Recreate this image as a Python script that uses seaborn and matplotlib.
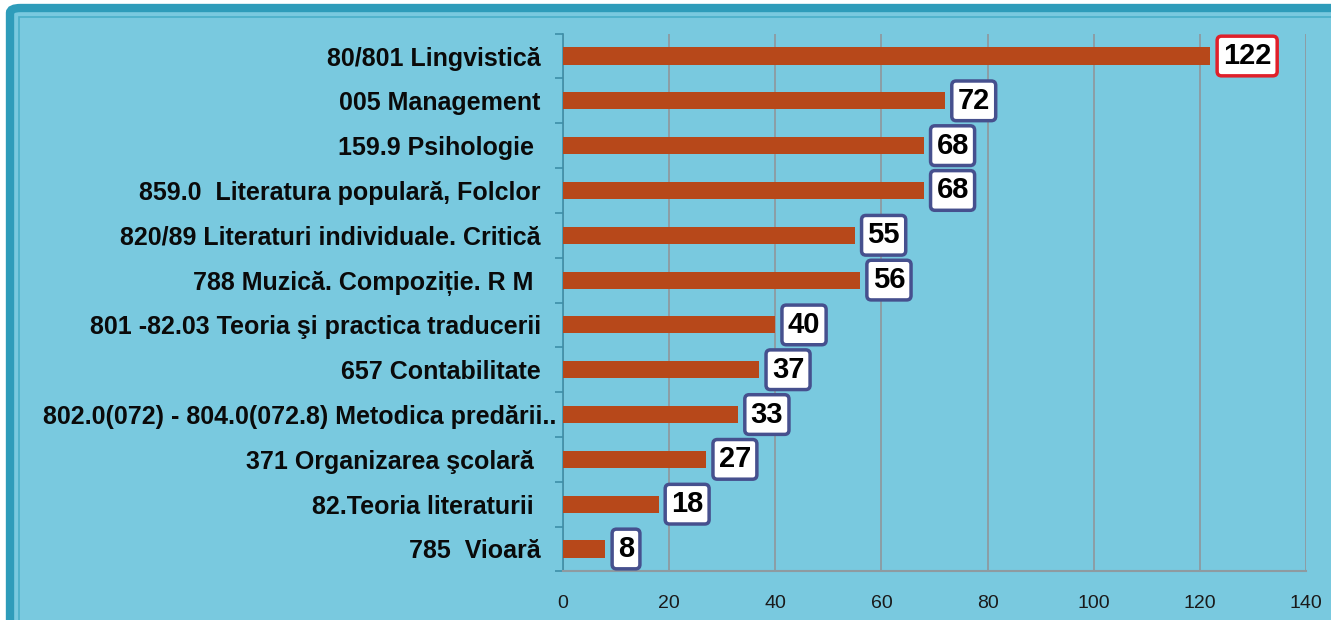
import matplotlib
matplotlib.use("Agg")
import matplotlib.pyplot as plt
import seaborn as sns
import pandas as pd
from matplotlib.patches import FancyBboxPatch
from matplotlib.ticker import FixedLocator
from matplotlib.transforms import ScaledTranslation

categories = [
    "80/801 Lingvistică",
    "005 Management",
    "159.9 Psihologie ",
    "859.0  Literatura populară, Folclor",
    "820/89 Literaturi individuale. Critică",
    "788 Muzică. Compoziție. R M ",
    "801 -82.03 Teoria şi practica traducerii",
    "657 Contabilitate",
    "802.0(072) - 804.0(072.8) Metodica predării..",
    "371 Organizarea şcolară ",
    "82.Teoria literaturii ",
    "785  Vioară",
]
values = [122, 72, 68, 68, 55, 56, 40, 37, 33, 27, 18, 8]
x_ticks = [0, 20, 40, 60, 80, 100, 120, 140]

BG = "#79C9DF"
BAR = "#B7481A"

sns.set_theme(style="white")
plt.rcParams['font.family'] = ['Liberation Sans', 'DejaVu Sans']

fig = plt.figure(figsize=(13.31, 6.20), dpi=100)
fig.patch.set_facecolor("white")

# frame background
frame = FancyBboxPatch((10 / 1331, -0.05), 1.2, 1.05 - 8 / 620,
                       boxstyle="round,pad=0,rounding_size=0.008",
                       transform=fig.transFigure, facecolor=BG,
                       edgecolor="#2E9CBA", linewidth=6, zorder=-10)
fig.patches.append(frame)
inner = plt.Rectangle((19 / 1331, -0.05), 1.2, 1.05 - 17 / 620,
                      transform=fig.transFigure, facecolor="none",
                      edgecolor="#4AAFC9", linewidth=1.2, zorder=-9)
fig.patches.append(inner)

ax = fig.add_axes([563 / 1331, 1 - 571.4 / 620, (1306 - 563) / 1331, (571.4 - 33.6) / 620])
ax.set_facecolor("none")
ax.set_zorder(5)

df = pd.DataFrame({"cat": categories, "val": values})
sns.barplot(data=df, x="val", y="cat", orient="h", color=BAR, width=0.38,
            saturation=1, linewidth=0, ax=ax, zorder=3)

ax.set_xlim(0, 140)
ax.set_ylim(len(categories) - 0.5, -0.5)
ax.set_xlabel("")
ax.set_ylabel("")

# gridlines
ax.xaxis.set_major_locator(FixedLocator(x_ticks))
ax.grid(axis="x", color="#8E9AA0", linewidth=1.3, zorder=1)
ax.set_axisbelow(True)

for s in ["top", "right"]:
    ax.spines[s].set_visible(False)
ax.spines["left"].set_color("#3E8FA8")
ax.spines["left"].set_linewidth(1.2)
ax.spines["bottom"].set_color("#8E9AA0")
ax.spines["bottom"].set_linewidth(1.5)

ax.tick_params(axis="x", direction="out", length=6, width=1.3, color="#8E9AA0",
               pad=11, labelsize=14, labelcolor="#1A1A1A")
ax.set_xticklabels([str(t) for t in x_ticks])

ax.tick_params(axis="y", which="major", length=0, pad=16, labelsize=18)
for lab in ax.get_yticklabels():
    lab.set_fontweight("bold")
    lab.set_color("#0A0A0A")
    if lab.get_text().endswith(".."):
        lab.set_transform(lab.get_transform() +
                          ScaledTranslation(16 / 100, 0, fig.dpi_scale_trans))
ax.yaxis.set_minor_locator(FixedLocator([i - 0.5 for i in range(len(categories) + 1)]))
ax.tick_params(axis="y", which="minor", direction="out", length=6, width=1.2,
               color="#3E8FA8", left=True)

# value labels
for i, v in enumerate(values):
    ec = "#E0202A" if i == 0 else "#46508E"
    ax.annotate(str(v), xy=(v, i), xytext=(9, 0), textcoords="offset points",
                ha="left", va="center", fontsize=21, fontweight="bold",
                color="black", zorder=5,
                bbox=dict(boxstyle="round,pad=0.2,rounding_size=0.15",
                          facecolor="white", edgecolor=ec, linewidth=2.5))

fig.savefig("out.png", dpi=100, facecolor=fig.get_facecolor())
